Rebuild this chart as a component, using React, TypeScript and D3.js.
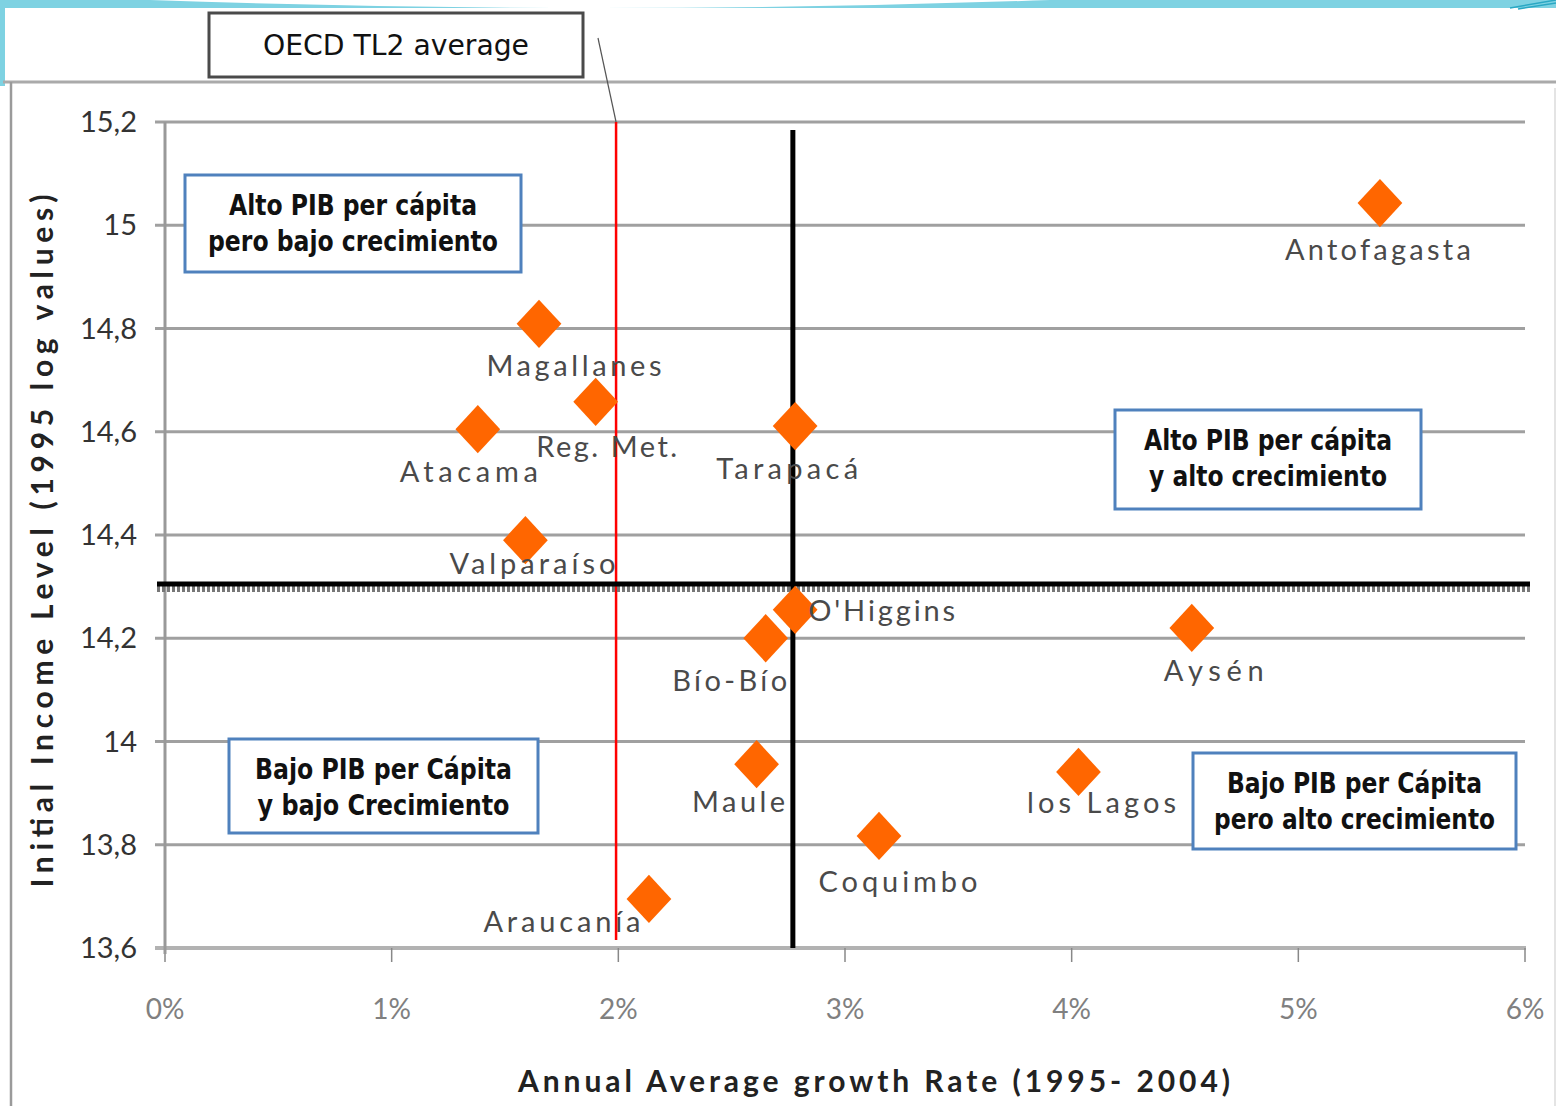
import React from "react";
import * as d3 from "d3";

const regions = ["Antofagasta", "Magallanes", "Reg. Met.", "Atacama", "Tarapacá", "Valparaíso", "O'Higgins", "Bío-Bío", "Aysén", "Maule", "los Lagos", "Coquimbo", "Araucanía"];
const growth = [0.0536, 0.0165, 0.0190, 0.0138, 0.0278, 0.0159, 0.0278, 0.0265, 0.0453, 0.0261, 0.0403, 0.0315, 0.02135];
const income = [15.043, 14.809, 14.658, 14.605, 14.611, 14.390, 14.255, 14.200, 14.220, 13.956, 13.941, 13.817, 13.695];

const yTicks = [13.6, 13.8, 14.0, 14.2, 14.4, 14.6, 14.8, 15.0, 15.2];
const xTicks = [0, 0.01, 0.02, 0.03, 0.04, 0.05, 0.06];

const oecdAverage = 0.0199;
const chileGrowthAvg = 0.0277;
const chileIncomeAvg = 14.305;

const quadrantTexts = [
  ["Alto PIB per cápita", "pero bajo crecimiento"],
  ["Alto PIB per cápita", "y alto crecimiento"],
  ["Bajo PIB per Cápita", "y bajo Crecimiento"],
  ["Bajo PIB per Cápita", "pero alto crecimiento"],
];

// layout of labels (dx, dy relative to point, anchor, width)
const labelLayout: Record<string, { dx: number; dy: number; anchor: string; w: number }> = {
  "Antofagasta": { dx: -2, dy: 57, anchor: "middle", w: 186 },
  "Magallanes": { dx: 35, dy: 52, anchor: "middle", w: 175 },
  "Reg. Met.": { dx: 11, dy: 55, anchor: "middle", w: 141 },
  "Atacama": { dx: -9, dy: 53, anchor: "middle", w: 138 },
  "Tarapacá": { dx: -8, dy: 53, anchor: "middle", w: 142 },
  "Valparaíso": { dx: 7, dy: 34, anchor: "middle", w: 166 },
  "O'Higgins": { dx: 13, dy: 11, anchor: "start", w: 147 },
  "Bío-Bío": { dx: -36, dy: 53, anchor: "middle", w: 115 },
  "Aysén": { dx: 22, dy: 53, anchor: "middle", w: 100 },
  "Maule": { dx: -18, dy: 48, anchor: "middle", w: 93 },
  "los Lagos": { dx: 23, dy: 41, anchor: "middle", w: 149 },
  "Coquimbo": { dx: 19, dy: 56, anchor: "middle", w: 159 },
  "Araucanía": { dx: -87, dy: 33, anchor: "middle", w: 157 },
};

const boxLayout = [
  { x: 185, y: 175, w: 336, h: 97, tw: [248, 290] },
  { x: 1115, y: 410, w: 306, h: 99, tw: [248, 238] },
  { x: 229, y: 739, w: 309, h: 94, tw: [257, 252] },
  { x: 1193, y: 753, w: 323, h: 96, tw: [255, 281] },
];

const W = 1556;
const H = 1106;
const FONT = "Lato, 'Open Sans', sans-serif";
const NARROW = "'Liberation Sans Narrow', 'DejaVu Sans Condensed', Arial, sans-serif";

export default function App() {
  const x = d3.scaleLinear().domain([0, 0.06]).range([165, 1525]);
  const y = d3.scaleLinear().domain([13.6, 15.2]).range([948, 122]);
  const square = d3.symbol().type(d3.symbolSquare).size(1000)() as string;
  const fmtY = (v: number) => (Math.abs(v - Math.round(v)) < 1e-9 ? String(Math.round(v)) : v.toFixed(1).replace(".", ","));
  const fmtX = (v: number) => `${Math.round(v * 100)}%`;

  return (
    <svg width={W} height={H} style={{ position: "absolute", left: 0, top: 0, background: "#fff" }}>
      {/* slide decoration */}
      <rect x={0} y={0} width={W} height={8} fill="#7ed2e2" />
      <path d="M150,0 Q600,16 1050,0 Z" fill="#fff" />
      <rect x={0} y={0} width={5} height={86} fill="#7ed2e2" />
      <line x1={1510} y1={8} x2={1556} y2={0} stroke="#2aa8c4" strokeWidth={1.5} />
      <line x1={1518} y1={9} x2={1556} y2={3} stroke="#2aa8c4" strokeWidth={1.5} />

      {/* chart frame */}
      <line x1={3} y1={82} x2={W} y2={82} stroke="#aaaaaa" strokeWidth={3} />
      <line x1={11} y1={82} x2={11} y2={H} stroke="#9a9a9a" strokeWidth={2.5} />
      <line x1={1555} y1={88} x2={1555} y2={H} stroke="#e4e4e4" strokeWidth={2} />

      {/* gridlines */}
      {yTicks.slice(1).map((t) => (
        <line key={t} x1={155} x2={1525} y1={y(t)} y2={y(t)} stroke="#a0a0a0" strokeWidth={3} />
      ))}
      {/* x axis */}
      <line x1={155} x2={1526} y1={y(13.6)} y2={y(13.6)} stroke="#b2b2b2" strokeWidth={4} />
      {xTicks.map((t) => (
        <line key={t} x1={x(t)} x2={x(t)} y1={y(13.6)} y2={y(13.6) + 14} stroke="#888" strokeWidth={1.5} />
      ))}
      {/* y axis */}
      <line x1={x(0)} x2={x(0)} y1={y(15.2)} y2={y(13.6) + 6} stroke="#999" strokeWidth={3} />

      {/* y tick labels */}
      {yTicks.map((t) => (
        <text key={t} x={137} y={y(t) + 10} textAnchor="end" fontFamily={FONT} fontSize={29} fill="#333">
          {fmtY(t)}
        </text>
      ))}
      {/* x tick labels */}
      {xTicks.map((t) => (
        <text key={t} x={x(t)} y={1019} textAnchor="middle" fontFamily={FONT} fontSize={28} fill="#808080">
          {fmtX(t)}
        </text>
      ))}

      {/* axis titles */}
      <text x={874} y={1092} textAnchor="middle" fontFamily={FONT} fontSize={30} fontWeight="bold" fill="#222" textLength={712} lengthAdjust="spacing">
        Annual Average growth Rate (1995- 2004)
      </text>
      <text transform="translate(53,541) rotate(-90)" textAnchor="middle" fontFamily={FONT} fontSize={30} fontWeight="bold" fill="#222" textLength={693} lengthAdjust="spacing">
        Initial Income Level (1995 log values)
      </text>

      {/* OECD average red line */}
      <line x1={x(oecdAverage)} x2={x(oecdAverage)} y1={y(15.2)} y2={940} stroke="#ff0000" strokeWidth={2.5} />
      <line x1={x(oecdAverage)} y1={y(15.2)} x2={598} y2={38} stroke="#555" strokeWidth={1.2} />
      <rect x={209} y={13} width={374} height={64} fill="#fff" stroke="#4a4a4a" strokeWidth={3} />
      <text x={396} y={55} textAnchor="middle" fontFamily={NARROW} fontSize={29} fill="#111" textLength={266} lengthAdjust="spacingAndGlyphs">
        OECD TL2 average
      </text>

      {/* Chile averages */}
      <line x1={157} x2={1530} y1={y(chileIncomeAvg) + 5} y2={y(chileIncomeAvg) + 5} stroke="#777" strokeWidth={6} strokeDasharray="3 2" />
      <line x1={157} x2={1530} y1={y(chileIncomeAvg)} y2={y(chileIncomeAvg)} stroke="#000" strokeWidth={5} />
      <line x1={x(chileGrowthAvg)} x2={x(chileGrowthAvg)} y1={130} y2={y(13.6)} stroke="#000" strokeWidth={5} />

      {/* quadrant boxes */}
      {boxLayout.map((b, i) => (
        <g key={i}>
          <rect x={b.x} y={b.y} width={b.w} height={b.h} fill="#fff" stroke="#4f81bd" strokeWidth={3} />
          {quadrantTexts[i].map((line, j) => (
            <text
              key={j}
              x={b.x + b.w / 2}
              y={b.y + 40 + j * 36}
              textAnchor="middle"
              fontFamily={NARROW}
              fontWeight="bold"
              fontSize={28}
              fill="#111"
              textLength={b.tw[j]}
              lengthAdjust="spacingAndGlyphs"
            >
              {line}
            </text>
          ))}
        </g>
      ))}

      {/* points */}
      {regions.map((r, i) => (
        <path key={r} d={square} transform={`translate(${x(growth[i])},${y(income[i])}) scale(1,1.08) rotate(45)`} fill="#ff6600" />
      ))}

      {/* labels */}
      {regions.map((r, i) => {
        const l = labelLayout[r];
        return (
          <text
            key={r}
            x={x(growth[i]) + l.dx}
            y={y(income[i]) + l.dy}
            textAnchor={l.anchor}
            fontFamily={FONT}
            fontSize={29}
            fill="#4a4a4a"
            textLength={l.w}
            lengthAdjust="spacing"
          >
            {r}
          </text>
        );
      })}
    </svg>
  );
}
